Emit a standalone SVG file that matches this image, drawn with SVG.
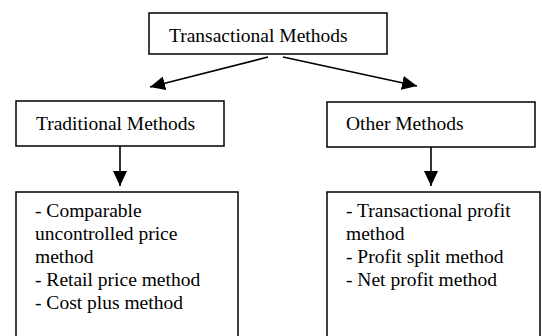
<svg xmlns="http://www.w3.org/2000/svg" width="542" height="336" viewBox="0 0 542 336">
<style>
  .box { fill: #ffffff; stroke: #000000; stroke-width: 1.5; }
  .t { font-family: "Liberation Serif", "Times New Roman", serif; font-size: 19.5px; fill: #000000; }
  .c { stroke: #000000; stroke-width: 1.6; fill: none; marker-end: url(#ah); }
</style>
<defs>
  <marker id="ah" markerUnits="userSpaceOnUse" markerWidth="15" markerHeight="14" refX="15" refY="7" orient="auto">
    <path d="M0,0 L15,7 L0,14 z" fill="#000000"/>
  </marker>
</defs>
<rect width="542" height="336" fill="#ffffff"/>
<g id="connectors">
  <line class="c" x1="268" y1="57" x2="150" y2="87"/>
  <line class="c" x1="283" y1="57" x2="417" y2="86"/>
  <line class="c" x1="120" y1="146" x2="120" y2="186"/>
  <line class="c" x1="431" y1="147" x2="431" y2="186"/>
</g>
<g id="transactional">
  <rect class="box" x="149" y="13" width="238" height="41"/>
  <text class="t" x="169" y="42">Transactional Methods</text>
</g>
<g id="traditional">
  <rect class="box" x="16" y="101" width="208" height="45"/>
  <text class="t" x="36" y="130">Traditional Methods</text>
</g>
<g id="other">
  <rect class="box" x="327" y="102" width="208" height="45"/>
  <text class="t" x="346" y="130">Other Methods</text>
</g>
<g id="traditional-list">
  <rect class="box" x="16" y="192" width="222" height="160"/>
  <text class="t" x="35" y="217">- Comparable</text>
  <text class="t" x="35" y="240">uncontrolled price</text>
  <text class="t" x="35" y="263">method</text>
  <text class="t" x="35" y="286">- Retail price method</text>
  <text class="t" x="35" y="309">- Cost plus method</text>
</g>
<g id="other-list">
  <rect class="box" x="327" y="192" width="213" height="160"/>
  <text class="t" x="346" y="217">- Transactional profit</text>
  <text class="t" x="346" y="240">method</text>
  <text class="t" x="346" y="263">- Profit split method</text>
  <text class="t" x="346" y="286">- Net profit method</text>
</g>
</svg>
